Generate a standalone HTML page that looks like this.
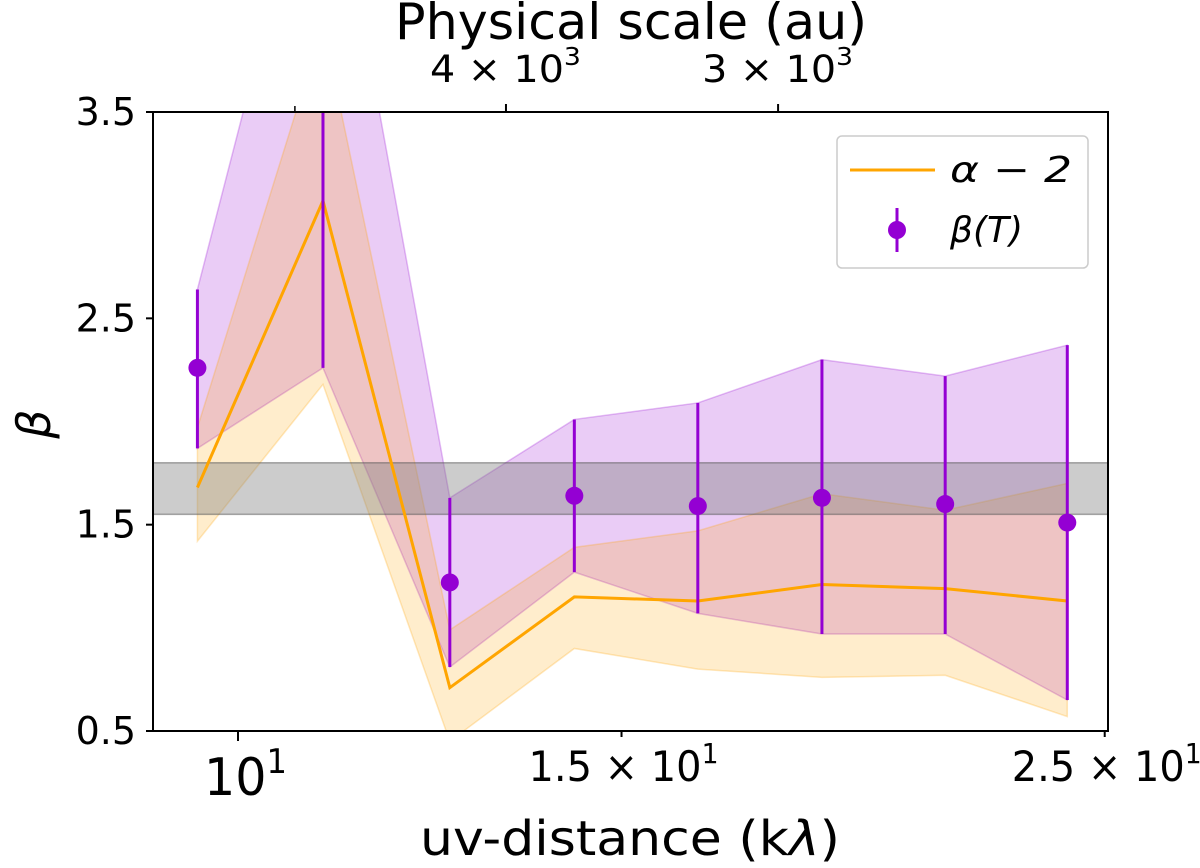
<!DOCTYPE html>
<html><head><meta charset="utf-8"><style>
html,body{margin:0;padding:0;background:#fff;}
svg{display:block;font-family:"DejaVu Sans","Liberation Sans",sans-serif;}
</style></head><body>
<svg id="chart" width="1200" height="868" viewBox="0 0 1200 868">
<defs><clipPath id="pc"><rect x="153" y="112" width="955" height="619"/></clipPath></defs>
<g id="bands" clip-path="url(#pc)"></g>
<g id="marks" clip-path="url(#pc)"></g>
<g id="axes"></g>
<text x="395" y="39" font-size="50" textLength="472" lengthAdjust="spacingAndGlyphs">Physical scale (au)</text>
<text x="420" y="855" font-size="48" textLength="420" lengthAdjust="spacingAndGlyphs">uv-distance (k<tspan font-style="italic">λ</tspan>)</text>
<text x="50" y="424" font-size="46" font-style="italic" text-anchor="middle" transform="rotate(-90 50 424)">β</text>
<g>
<rect x="837" y="136" width="251" height="132" rx="5" fill="#fff" fill-opacity="0.8" stroke="#ccc" stroke-width="1.5"/>
<line x1="850" y1="170" x2="935" y2="170" stroke="#FFA500" stroke-width="3"/>
<text x="950" y="182" font-size="36" font-style="italic" textLength="122" lengthAdjust="spacingAndGlyphs">α − 2</text>
<line x1="897" y1="208" x2="897" y2="252" stroke="#9400D3" stroke-width="3"/>
<circle cx="897" cy="230" r="9" fill="#9400D3"/>
<text x="950" y="242" font-size="36" font-style="italic">β(T)</text>
</g>
</svg>
<script>
const uv = [9.58, 10.94, 12.51, 14.27, 16.26, 18.54, 21.12, 24.03];
const betaT = [2.26, 3.63, 1.22, 1.64, 1.59, 1.63, 1.60, 1.51];
const betaHi = [2.64, 5.0, 1.63, 2.01, 2.09, 2.30, 2.22, 2.37];
const betaLo = [1.87, 2.26, 0.81, 1.27, 1.07, 0.97, 0.97, 0.65];
const alpha2 = [1.68, 3.07, 0.71, 1.15, 1.13, 1.21, 1.19, 1.13];
const alphaHi = [1.97, 3.92, 0.99, 1.39, 1.47, 1.65, 1.57, 1.70];
const alphaLo = [1.42, 2.18, 0.45, 0.90, 0.80, 0.76, 0.77, 0.57];
const grayBand = [1.55, 1.80];
const yTicks = [0.5, 1.5, 2.5, 3.5];
const xTicks = [10, 15, 25];
const xTickLabels = ["10", "1.5 × 10", "2.5 × 10"];
const topTicksAu = [4000, 3000];
const topTickLabels = ["4 × 10", "3 × 10"];
const topMinorAu = [5000];
const auConst = 53100;

const NS = "http://www.w3.org/2000/svg";
const X = v => 238 + 2178 * Math.log10(v / 10);
const Y = v => 731 - (v - 0.5) * 206.33;
function mk(tag, attrs, parent) {
  const e = document.createElementNS(NS, tag);
  for (const k in attrs) e.setAttribute(k, attrs[k]);
  parent.appendChild(e);
  return e;
}
const bands = document.getElementById('bands');
const marks = document.getElementById('marks');
const axes = document.getElementById('axes');

function bandPts(hi, lo) {
  const a = uv.map((u, i) => X(u) + ',' + Y(hi[i]));
  const b = uv.map((u, i) => X(u) + ',' + Y(lo[i])).reverse();
  return a.concat(b).join(' ');
}
let pb = mk('polygon', {points: bandPts(betaHi, betaLo), fill: '#9400D3', 'fill-opacity': 0.2, stroke: '#9400D3', 'stroke-opacity': 0.25, 'stroke-width': 1.5}, bands);


let ob = mk('polygon', {points: bandPts(alphaHi, alphaLo), fill: '#FFA500', 'fill-opacity': 0.2, stroke: '#FFA500', 'stroke-opacity': 0.25, 'stroke-width': 1.5}, bands);


let gb = mk('rect', {x: 153, y: Y(grayBand[1]), width: 955, height: Y(grayBand[0]) - Y(grayBand[1]), fill: '#808080', 'fill-opacity': 0.4, stroke: '#555', 'stroke-opacity': 0.5, 'stroke-width': 1.5}, bands);



let ol = mk('polyline', {points: uv.map((u, i) => X(u) + ',' + Y(alpha2[i])).join(' '), fill: 'none', stroke: '#FFA500', 'stroke-width': 3}, marks);


uv.forEach((u, i) => {
  const l = mk('line', {x1: X(u), x2: X(u), y1: Y(betaHi[i]), y2: Y(betaLo[i]), stroke: '#9400D3', 'stroke-width': 3}, marks);
  
  
  const c = mk('circle', {cx: X(u), cy: Y(betaT[i]), r: 9, fill: '#9400D3'}, marks);
  
  
});

const frame = mk('rect', {x: 153, y: 112, width: 955, height: 619, fill: 'none', stroke: '#000', 'stroke-width': 2}, axes);


yTicks.forEach(t => {
  mk('line', {x1: 146, x2: 153, y1: Y(t), y2: Y(t), stroke: '#000', 'stroke-width': 2}, axes);
  const tx = mk('text', {x: 136, y: Y(t) + 13, 'font-size': 38, 'text-anchor': 'end'}, axes);
  tx.textContent = t.toFixed(1);
  
  
});
xTicks.forEach((t, i) => {
  const x = X(t);
  mk('line', {x1: x, x2: x, y1: 731, y2: i === 0 ? 741 : 737, stroke: '#000', 'stroke-width': 2}, axes);
  const first = i === 0;
  const tx = mk('text', {x: first ? x - 34 : x - 93, y: first ? 795 : 781, 'font-size': first ? 52 : 42, textLength: first ? 83 : 190, lengthAdjust: 'spacingAndGlyphs'}, axes);
  tx.textContent = xTickLabels[i];
  const s = mk('tspan', {dy: first ? -22 : -18, 'font-size': first ? 34 : 28}, tx);
  s.textContent = '1';
  
  
});
topTicksAu.forEach((a, i) => {
  const x = X(auConst / a);
  mk('line', {x1: x, x2: x, y1: 112, y2: 104, stroke: '#000', 'stroke-width': 2}, axes);
  const tx = mk('text', {x: x - 76, y: 82, 'font-size': 37, textLength: 151, lengthAdjust: 'spacingAndGlyphs'}, axes);
  tx.textContent = topTickLabels[i];
  const s = mk('tspan', {dy: -17, 'font-size': 25}, tx);
  s.textContent = '3';
  
  
});
topMinorAu.forEach(a => {
  const x = X(auConst / a);
  mk('line', {x1: x, x2: x, y1: 112, y2: 106, stroke: '#000', 'stroke-width': 1.5}, axes);
});
</script>
</body></html>
